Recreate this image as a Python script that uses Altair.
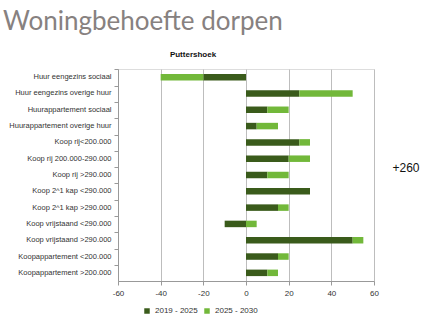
import altair as alt
import pandas as pd

categories = [
    "Huur eengezins sociaal",
    "Huur eengezins overige huur",
    "Huurappartement sociaal",
    "Huurappartement overige huur",
    "Koop rij<200.000",
    "Koop rij 200.000-290.000",
    "Koop rij >290.000",
    "Koop 2^1 kap <290.000",
    "Koop 2^1 kap >290.000",
    "Koop vrijstaand <290.000",
    "Koop vrijstaand >290.000",
    "Koopappartement <200.000",
    "Koopappartement >200.000",
]
series_names = ["2019 - 2025", "2025 - 2030"]
values_2019_2025 = [-20, 25, 10, 5, 25, 20, 10, 30, 15, -10, 50, 15, 10]
values_2025_2030 = [-20, 25, 10, 10, 5, 10, 10, 0, 5, 5, 5, 5, 5]
x_ticks = [-60, -40, -20, 0, 20, 40, 60]
colors = ["#3a5b1b", "#72b83a"]

rows = []
for i, c in enumerate(categories):
    rows.append({"cat": c, "serie": series_names[0], "val": values_2019_2025[i], "ord": 0})
    rows.append({"cat": c, "serie": series_names[1], "val": values_2025_2030[i], "ord": 1})
df = pd.DataFrame(rows)

font = "Liberation Sans"

bars = alt.Chart(df).mark_bar(size=6.5).encode(
    y=alt.Y("cat:N", sort=categories, title=None,
            axis=alt.Axis(bandPosition=0, tickSize=4, labelFontSize=7.5, labelFont=font,
                          labelColor="#333333", domainColor="#999999", tickColor="#999999",
                          labelPadding=3, labelLimit=200)),
    x=alt.X("val:Q", title=None, stack="zero",
            scale=alt.Scale(domain=[-60, 60], nice=False),
            axis=alt.Axis(values=x_ticks, grid=True, gridColor="#bdbdbd", tickSize=4,
                          labelExpr="'' + datum.value", labelFlush=False,
                          labelFontSize=8, labelFont=font, labelColor="#333333",
                          domainColor="#999999", tickColor="#999999", labelPadding=4)),
    color=alt.Color("serie:N", sort=series_names,
                    scale=alt.Scale(domain=series_names, range=colors),
                    legend=alt.Legend(title=None, orient="none", legendX=25, legendY=238,
                                      direction="horizontal", symbolType="square",
                                      symbolSize=30, labelFontSize=8, labelFont=font,
                                      labelColor="#333333", columnPadding=5,
                                      symbolStrokeWidth=0)),
    order=alt.Order("ord:Q"),
)

one = pd.DataFrame({"a": [0]})
title = alt.Chart(one).mark_text(align="left", baseline="alphabetic", fontSize=26,
                                 font="Lato", color="#878180").encode(
    x=alt.value(-115), y=alt.value(-39), text=alt.value("Woningbehoefte dorpen"))
sub = alt.Chart(one).mark_text(align="center", baseline="alphabetic", fontSize=8,
                               font=font, fontWeight="bold", color="#111111").encode(
    x=alt.value(75), y=alt.value(-12), text=alt.value("Puttershoek"))
note = alt.Chart(one).mark_text(align="center", baseline="middle", fontSize=12,
                                font=font, color="#111111").encode(
    x=alt.value(288), y=alt.value(99), text=alt.value("+260"))

chart = alt.layer(bars, title, sub, note).properties(
    width=256, height=212,
    autosize=alt.AutoSizeParams(type="none"),
    padding={"left": 118, "top": 69, "right": 72, "bottom": 39},
).configure_view(stroke=None).configure(background="white")

chart.save("out.html", embed_options={"renderer": "svg", "actions": False})
